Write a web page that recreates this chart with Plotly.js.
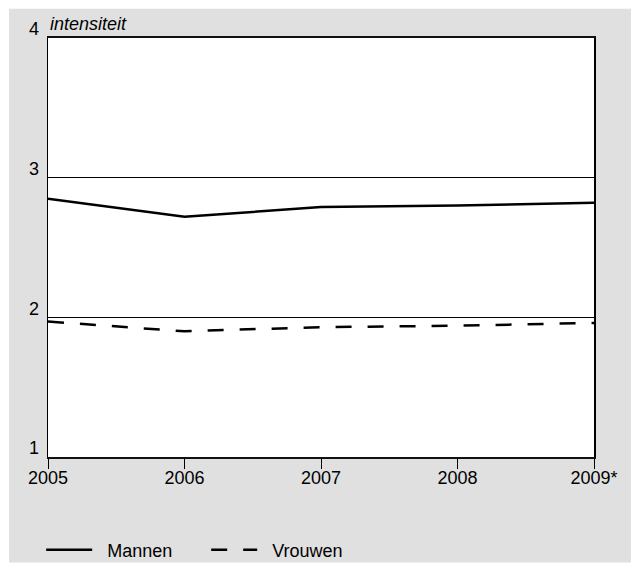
<!DOCTYPE html>
<html>
<head>
<meta charset="utf-8">
<script src="https://cdn.plot.ly/plotly-3.0.1.min.js"></script>
<style>html,body{margin:0;padding:0;background:#fff;}#chart{width:631px;height:563px;}</style>
</head>
<body>
<div id="chart"></div>
<script>
const years = [2005, 2006, 2007, 2008, 2009];
const yearLabels = ["2005", "2006", "2007", "2008", "2009*"];
const mannen = [2.85, 2.72, 2.79, 2.80, 2.82];
const vrouwen = [1.97, 1.90, 1.93, 1.94, 1.96];
const yTicks = [1, 2, 3, 4];
const seriesNames = ["Mannen", "Vrouwen"];

const font = {family: "Liberation Sans, Arial, Helvetica, sans-serif", size: 18, color: "#000"};
const pad = "\u00a0\u00a0";

const traces = [
  {x: years, y: mannen, name: pad + seriesNames[0], type: "scatter", mode: "lines",
   line: {color: "#000", width: 2.5}},
  {x: years, y: vrouwen, name: pad + seriesNames[1], type: "scatter", mode: "lines",
   line: {color: "#000", width: 2.5, dash: "16px,16px"}}
];

const layout = {
  width: 631, height: 563,
  margin: {l: 48, r: 37, t: 38, b: 106, pad: 0, autoexpand: false},
  paper_bgcolor: "#fff",
  plot_bgcolor: "#fff",
  font: font,
  showlegend: true,
  legend: {orientation: "h", x: -0.0125, xanchor: "left", y: -0.222, yanchor: "middle",
           bgcolor: "rgba(0,0,0,0)", font: font, itemwidth: 46, entrywidth: 104, traceorder: "normal"},
  xaxis: {range: [2005, 2009], tickvals: years, ticktext: yearLabels,
          showgrid: false, zeroline: false, showline: true, linecolor: "#111", linewidth: 2, mirror: true,
          ticks: "", ticklabelstandoff: 3,
          minor: {tickvals: years, ticks: "outside", ticklen: 10, tickcolor: "#000", tickwidth: 1, showgrid: false},
          tickfont: font, fixedrange: true},
  yaxis: {range: [1, 4], tickvals: yTicks, showgrid: true, gridcolor: "#000", gridwidth: 1,
          zeroline: false, showline: true, linecolor: "#000", linewidth: 1.5, mirror: true,
          ticks: "", tickfont: font, ticklabelshift: -9, ticklabelstandoff: 4, fixedrange: true},
  shapes: [
    {type: "rect", xref: "paper", yref: "paper", x0: -39/546, x1: 583/546, y0: -0.252, y1: 1.07,
     fillcolor: "#e0e0e0", line: {width: 0}, layer: "below"},
    {type: "rect", xref: "paper", yref: "paper", x0: 0, x1: 1, y0: 0, y1: 1,
     fillcolor: "#fff", line: {width: 0}, layer: "below"}
  ],
  annotations: [
    {text: "<i>intensiteit</i>", xref: "paper", yref: "paper", x: 0, y: 1, xanchor: "left", yanchor: "bottom",
     xshift: 0, yshift: 2, showarrow: false, font: font}
  ]
};

Plotly.newPlot("chart", traces, layout, {displayModeBar: false, staticPlot: true});
</script>
</body>
</html>
